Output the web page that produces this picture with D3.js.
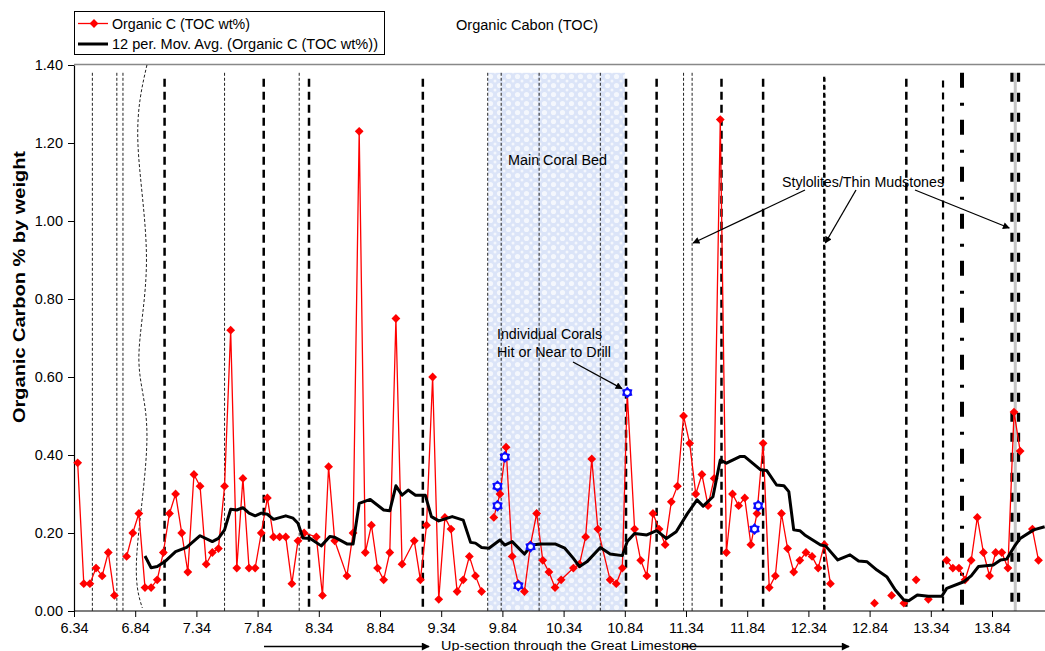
<!DOCTYPE html>
<html>
<head>
<meta charset="utf-8">
<script src="https://cdn.jsdelivr.net/npm/d3@7"></script>
<style>
  body { margin: 0; background: #fff; }
  svg { display: block; }
  text { font-family: "Liberation Sans", Arial, sans-serif; fill: #000; }
</style>
</head>
<body>
<svg id="chart" width="1045" height="651"></svg>
<script>
// ---- Data: depth (m) and organic carbon (TOC wt%); null marks a gap in the record
const depth = [
  6.37, 6.42, 6.47, 6.52, 6.57, 6.62, 6.67, 6.72, 6.77, 6.82,
  6.87, 6.92, 6.97, 7.02, 7.07, 7.12, 7.17, 7.22, 7.27, 7.32,
  7.37, 7.42, 7.47, 7.52, 7.57, 7.62, 7.67, 7.72, 7.77, 7.82,
  7.87, 7.92, 7.97, 8.02, 8.07, 8.12, 8.17, 8.22, 8.32, 8.37,
  8.42, 8.47, 8.57, 8.62, 8.67, 8.72, 8.77, 8.82, 8.87, 8.92,
  8.97, 9.02, 9.12, 9.17, 9.22, 9.27, 9.32, 9.37, 9.42, 9.47,
  9.52, 9.57, 9.62, 9.67, 9.72, 9.77, 9.82, 9.87, 9.92, 9.97,
  10.02, 10.07, 10.12, 10.17, 10.22, 10.27, 10.32, 10.42, 10.47, 10.52,
  10.57, 10.62, 10.72, 10.77, 10.82, 10.86, 10.92, 10.97, 11.02, 11.07,
  11.12, 11.17, 11.22, 11.27, 11.32, 11.37, 11.42, 11.47, 11.52, 11.57,
  11.62, 11.67, 11.72, 11.77, 11.82, 11.87, 11.92, 11.97, 12.02, 12.07,
  12.12, 12.17, 12.22, 12.27, 12.32, 12.37, 12.42, 12.47, 12.52, 12.70,
  12.88, 12.95, 13.02, 13.07, 13.12, 13.17, 13.22, 13.27, 13.32, 13.40,
  13.47, 13.52, 13.57, 13.62, 13.67, 13.72, 13.77, 13.82, 13.87, 13.92,
  13.97, 14.02, 14.07, 14.12, 14.17, 14.22
];
const toc = [
  0.38, 0.07, 0.07, 0.11, 0.09, 0.15, 0.04, null, 0.14, 0.20,
  0.25, 0.06, 0.06, 0.08, 0.15, 0.25, 0.30, 0.20, 0.10, 0.35,
  0.32, 0.12, 0.15, 0.16, 0.32, 0.72, 0.11, 0.34, 0.11, 0.11,
  0.20, 0.29, 0.19, 0.19, 0.19, 0.07, 0.18, 0.20, 0.19, 0.04,
  0.37, 0.18, 0.09, 0.20, 1.23, 0.15, 0.22, 0.11, 0.08, 0.15,
  0.75, 0.12, 0.18, 0.08, 0.22, 0.60, 0.03, 0.24, 0.21, 0.05,
  0.08, 0.14, 0.09, 0.05, null, 0.24, 0.30, 0.42, 0.14, 0.07,
  0.05, 0.17, 0.25, 0.13, 0.10, 0.06, 0.08, 0.11, 0.12, 0.19,
  0.39, 0.21, 0.08, 0.07, 0.11, 0.56, 0.21, 0.13, 0.09, 0.25,
  0.21, 0.17, 0.28, 0.32, 0.50, 0.43, 0.30, 0.35, 0.27, 0.34,
  1.26, 0.15, 0.30, 0.27, 0.29, 0.17, 0.25, 0.43, 0.06, 0.09,
  0.25, 0.16, 0.10, 0.13, 0.15, 0.14, 0.11, 0.17, 0.07, null,
  0.02, null, 0.04, null, 0.02, null, 0.08, null, 0.03, null,
  0.13, 0.11, 0.11, 0.08, 0.13, 0.24, 0.15, 0.09, 0.15, 0.15,
  0.11, 0.51, 0.41, null, 0.21, 0.13
];

// Samples where individual corals were hit or near to the drill
const coralDepth = [9.80, 9.80, 9.86, 9.97, 10.07, 10.86, 11.90, 11.93];
const coralToc   = [0.32, 0.27, 0.395, 0.065, 0.165, 0.56, 0.21, 0.27];

// 12-period moving average of TOC
const maDepth = [
  6.92, 6.97, 7.02, 7.08, 7.17, 7.26, 7.37, 7.47, 7.52, 7.57,
  7.62, 7.67, 7.72, 7.77, 7.82, 7.87, 7.92, 7.97, 8.07, 8.13,
  8.17, 8.21, 8.27, 8.36, 8.43, 8.47, 8.57, 8.62, 8.67, 8.76,
  8.87, 8.92, 8.97, 9.02, 9.07, 9.13, 9.21, 9.26, 9.32, 9.43,
  9.52, 9.58, 9.62, 9.67, 9.73, 9.82, 9.86, 9.92, 10.02, 10.08,
  10.15, 10.27, 10.35, 10.42, 10.47, 10.53, 10.64, 10.72, 10.82, 10.86,
  10.92, 11.02, 11.10, 11.18, 11.26, 11.35, 11.43, 11.48, 11.56, 11.62,
  11.67, 11.78, 11.82, 11.95, 12.00, 12.08, 12.14, 12.18, 12.22, 12.27,
  12.31, 12.44, 12.48, 12.58, 12.68, 12.75, 12.82, 12.90, 12.98, 13.05,
  13.12, 13.16, 13.23, 13.32, 13.43, 13.47, 13.61, 13.67, 13.73, 13.85,
  13.91, 13.96, 14.03, 14.07, 14.18, 14.27
];
const maToc = [
  0.141, 0.111, 0.114, 0.126, 0.152, 0.163, 0.193, 0.178, 0.186, 0.208,
  0.261, 0.259, 0.265, 0.251, 0.244, 0.251, 0.248, 0.235, 0.244, 0.238,
  0.225, 0.187, 0.186, 0.167, 0.191, 0.189, 0.172, 0.172, 0.276, 0.286,
  0.259, 0.257, 0.321, 0.297, 0.310, 0.297, 0.297, 0.242, 0.231, 0.242,
  0.233, 0.176, 0.174, 0.163, 0.161, 0.182, 0.169, 0.178, 0.146, 0.169,
  0.172, 0.172, 0.161, 0.135, 0.114, 0.126, 0.163, 0.146, 0.142, 0.178,
  0.199, 0.195, 0.206, 0.186, 0.203, 0.249, 0.285, 0.269, 0.293, 0.387,
  0.379, 0.396, 0.396, 0.362, 0.360, 0.323, 0.321, 0.306, 0.208, 0.206,
  0.195, 0.169, 0.167, 0.131, 0.144, 0.128, 0.126, 0.105, 0.088, 0.054,
  0.028, 0.026, 0.041, 0.038, 0.038, 0.058, 0.075, 0.090, 0.114, 0.118,
  0.131, 0.133, 0.169, 0.186, 0.208, 0.216
];

const xTicks = [6.34, 6.84, 7.34, 7.84, 8.34, 8.84, 9.34, 9.84, 10.34, 10.84, 11.34, 11.84, 12.34, 12.84, 13.34, 13.84];
const yTicks = [0, 0.2, 0.4, 0.6, 0.8, 1.0, 1.2, 1.4];

// Bedding horizons (depths) drawn as vertical rules, grouped by line style
const thinDotted  = [6.49, 6.69, 6.74, 7.57, 8.18, 9.72, 9.83, 10.14, 10.64, 11.32, 11.39];
const heavyDashed = [7.08, 7.89, 8.26, 9.19, 10.85, 11.10, 11.63, 11.97, 13.14];
const mediumDashed = [13.44];
const bracketDashed = [12.47];
const dashDot = [13.595];
const doubleDashed = [14.03];
// Wavy bedding contact near the base of the section
const wavyDepth = [6.936, 6.862, 6.932, 6.870, 6.936, 6.854, 6.898];
const wavyToc   = [1.40, 1.201, 0.900, 0.646, 0.449, 0.149, 0.008];

const coralBed = [9.722, 10.842];

// ---- Layout
const svg = d3.select("#chart");
const plot = { left: 74, top: 65, bottom: 611, right: 1053.2 };
const x = d3.scaleLinear().domain([6.34, 14.34]).range([plot.left, plot.right]);
const y = d3.scaleLinear().domain([0, 1.4]).range([plot.bottom, plot.top]);
const ruleTop = y(1.38);

const defs = svg.append("defs");
const pat = defs.append("pattern").attr("id", "lace")
  .attr("width", 9).attr("height", 9).attr("patternUnits", "userSpaceOnUse");
pat.append("rect").attr("width", 9).attr("height", 9).attr("fill", "#dbe4f8");
pat.append("circle").attr("cx", 4.5).attr("cy", 4.5).attr("r", 2.6).attr("fill", "#f4f7fd");
[[0, 0], [9, 0], [0, 9], [9, 9]].forEach(c =>
  pat.append("circle").attr("cx", c[0]).attr("cy", c[1]).attr("r", 1.5).attr("fill", "#f4f7fd"));

function arrowMarker(id, w, h) {
  defs.append("marker").attr("id", id)
    .attr("viewBox", "0 0 10 10").attr("refX", 9).attr("refY", 5)
    .attr("markerWidth", w).attr("markerHeight", h).attr("markerUnits", "userSpaceOnUse")
    .attr("orient", "auto")
    .append("path").attr("d", "M0,0 L10,5 L0,10 Z").attr("fill", "#000");
}
arrowMarker("arrow", 8, 7);
arrowMarker("arrowBig", 11, 8);

// Top frame line of the plot area
svg.append("line").attr("x1", plot.left).attr("x2", 1045)
  .attr("y1", plot.top - 0.5).attr("y2", plot.top - 0.5)
  .attr("stroke", "#888").attr("stroke-width", 1.5);

// Main coral bed shading
svg.append("rect")
  .attr("x", x(coralBed[0])).attr("y", ruleTop)
  .attr("width", x(coralBed[1]) - x(coralBed[0]))
  .attr("height", y(0) - ruleTop)
  .attr("fill", "url(#lace)");

// Vertical horizon rules
const rules = svg.append("g");
function drawRules(list, opts) {
  rules.selectAll(null).data(list).enter().append("line")
    .attr("x1", d => x(d) + (opts.dx || 0)).attr("x2", d => x(d) + (opts.dx || 0))
    .attr("y1", opts.top || ruleTop).attr("y2", y(0))
    .attr("stroke", opts.color || "#000")
    .attr("stroke-width", opts.width)
    .attr("stroke-dasharray", opts.dash);
}
drawRules(thinDotted, { width: 1, dash: "3,2", color: "#222" });
drawRules(heavyDashed, { width: 2.5, dash: "8,5", top: y(1.365) });
drawRules(mediumDashed, { width: 2.2, dash: "7,5", top: y(1.36) });
drawRules(bracketDashed, { width: 2.5, dash: "5,3", top: y(1.37) });
drawRules(bracketDashed, { width: 1, dash: "1,7", top: y(1.37), dx: 1.4, color: "#fff" });
drawRules(dashDot, { width: 4, dash: "15,15,3,14" });
drawRules(doubleDashed, { width: 3, dash: "none", color: "#c4c4c4" });
drawRules(doubleDashed, { width: 3.2, dash: "9,11", dx: -3.3 });
drawRules(doubleDashed, { width: 3.2, dash: "9,11", dx: 3.3 });

svg.append("path")
  .datum(wavyDepth.map((d, i) => [d, wavyToc[i]]))
  .attr("fill", "none").attr("stroke", "#222").attr("stroke-width", 1)
  .attr("stroke-dasharray", "3,2")
  .attr("d", d3.line().x(d => x(d[0])).y(d => y(d[1])).curve(d3.curveNatural));

// ---- Axes
const xAxis = svg.append("g").attr("transform", `translate(0,${plot.bottom})`)
  .call(d3.axisBottom(x).tickValues(xTicks).tickFormat(d3.format(".2f"))
    .tickSize(6).tickSizeOuter(0).tickPadding(6));
const yAxis = svg.append("g").attr("transform", `translate(${plot.left},0)`)
  .call(d3.axisLeft(y).tickValues(yTicks).tickFormat(d3.format(".2f"))
    .tickSize(6).tickSizeOuter(0).tickPadding(5));
[xAxis, yAxis].forEach(g => {
  g.select(".domain").attr("stroke", "#000").attr("stroke-width", 1.2);
  g.selectAll(".tick line").attr("stroke", "#000");
  g.selectAll(".tick text").attr("font-size", 14.5)
    .style("font-family", "'Liberation Sans', Arial, sans-serif").attr("fill", "#000");
});
xAxis.select(".domain").attr("d", `M${plot.left},0H1045`);

// ---- Series
const pts = depth.map((d, i) => ({ d, v: toc[i] }));
const line = d3.line().defined(p => p.v !== null).x(p => x(p.d)).y(p => y(p.v));
svg.append("path").datum(pts)
  .attr("fill", "none").attr("stroke", "#ff0000").attr("stroke-width", 1.3)
  .attr("d", line);

const diamond = "M0,-4.4L4.4,0L0,4.4L-4.4,0Z";
svg.append("g").selectAll("path").data(pts.filter(p => p.v !== null)).enter()
  .append("path").attr("d", diamond).attr("fill", "#ff0000")
  .attr("transform", p => `translate(${x(p.d)},${y(p.v)})`);

const ma = maDepth.map((d, i) => ({ d, v: maToc[i] }));
svg.append("path").datum(ma)
  .attr("fill", "none").attr("stroke", "#000").attr("stroke-width", 3)
  .attr("stroke-linejoin", "round")
  .attr("d", d3.line().x(p => x(p.d)).y(p => y(p.v)));

// Coral markers: six-pointed blue star with white centre
function starPath(ro, ri) {
  const p = [];
  for (let k = 0; k < 12; k++) {
    const a = -Math.PI / 2 + k * Math.PI / 6;
    const r = k % 2 === 0 ? ro : ri;
    p.push([r * Math.cos(a), r * Math.sin(a)]);
  }
  return "M" + p.map(q => q.join(",")).join("L") + "Z";
}
const corals = svg.append("g").selectAll("g")
  .data(coralDepth.map((d, i) => ({ d, v: coralToc[i] }))).enter()
  .append("g").attr("transform", p => `translate(${x(p.d)},${y(p.v)})`);
corals.append("path").attr("d", starPath(6, 4.3)).attr("fill", "#0a0aff");
corals.append("circle").attr("r", 2.4).attr("fill", "#fff");

// ---- Text helper: fixed-width labels
function label(xp, yp, str, size, len, anchor) {
  return svg.append("text").attr("x", xp).attr("y", yp).attr("font-size", size)
    .attr("text-anchor", anchor || "start")
    .attr("textLength", len).attr("lengthAdjust", "spacingAndGlyphs")
    .text(str);
}

// ---- Annotations
label(508, 165, "Main Coral Bed", 14, 99);
label(497, 339, "Individual Corals", 14, 105);
label(497, 357, "Hit or Near to Drill", 14, 114);
svg.append("line").attr("x1", 573).attr("y1", 362).attr("x2", x(10.85) - 4).attr("y2", y(0.56) - 4)
  .attr("stroke", "#000").attr("stroke-width", 1.3).attr("marker-end", "url(#arrow)");

label(782, 187, "Stylolites/Thin Mudstones", 14, 162);
[[805, 190, x(11.39) + 1, 243], [856, 190, x(12.47) + 1, 243], [915, 190, x(14.03) - 6, 228]]
  .forEach(a => svg.append("line").attr("x1", a[0]).attr("y1", a[1]).attr("x2", a[2]).attr("y2", a[3])
    .attr("stroke", "#000").attr("stroke-width", 1.3).attr("marker-end", "url(#arrow)"));

// Title
label(456, 30, "Organic Cabon (TOC)", 14, 142);

// Y axis title
svg.append("text").attr("transform", "translate(25,287) rotate(-90)")
  .attr("text-anchor", "middle").attr("font-size", 16).attr("font-weight", "bold")
  .attr("textLength", 272).attr("lengthAdjust", "spacingAndGlyphs")
  .text("Organic Carbon % by weight");

// X axis title with direction arrows
label(441, 649.5, "Up-section through the Great Limestone", 13.5, 256);
svg.append("line").attr("x1", 264).attr("y1", 646.5).attr("x2", 429).attr("y2", 646.5)
  .attr("stroke", "#000").attr("stroke-width", 1.3).attr("marker-end", "url(#arrowBig)");
svg.append("line").attr("x1", 682).attr("y1", 646.5).attr("x2", 849).attr("y2", 646.5)
  .attr("stroke", "#000").attr("stroke-width", 1.3).attr("marker-end", "url(#arrowBig)");

// ---- Legend
const lg = svg.append("g");
lg.append("rect").attr("x", 74.5).attr("y", 11.5).attr("width", 310).attr("height", 43)
  .attr("fill", "#fff").attr("stroke", "#000").attr("stroke-width", 1);
lg.append("line").attr("x1", 78).attr("x2", 108).attr("y1", 23.5).attr("y2", 23.5)
  .attr("stroke", "#ff0000").attr("stroke-width", 1.3);
lg.append("path").attr("d", diamond).attr("fill", "#ff0000").attr("transform", "translate(94,23.5)");
label(112, 28.5, "Organic C (TOC wt%)", 14, 138);
lg.append("line").attr("x1", 78).attr("x2", 108).attr("y1", 44).attr("y2", 44)
  .attr("stroke", "#000").attr("stroke-width", 3);
label(112, 49, "12 per. Mov. Avg. (Organic C (TOC wt%))", 14, 266);
</script>
</body>
</html>
